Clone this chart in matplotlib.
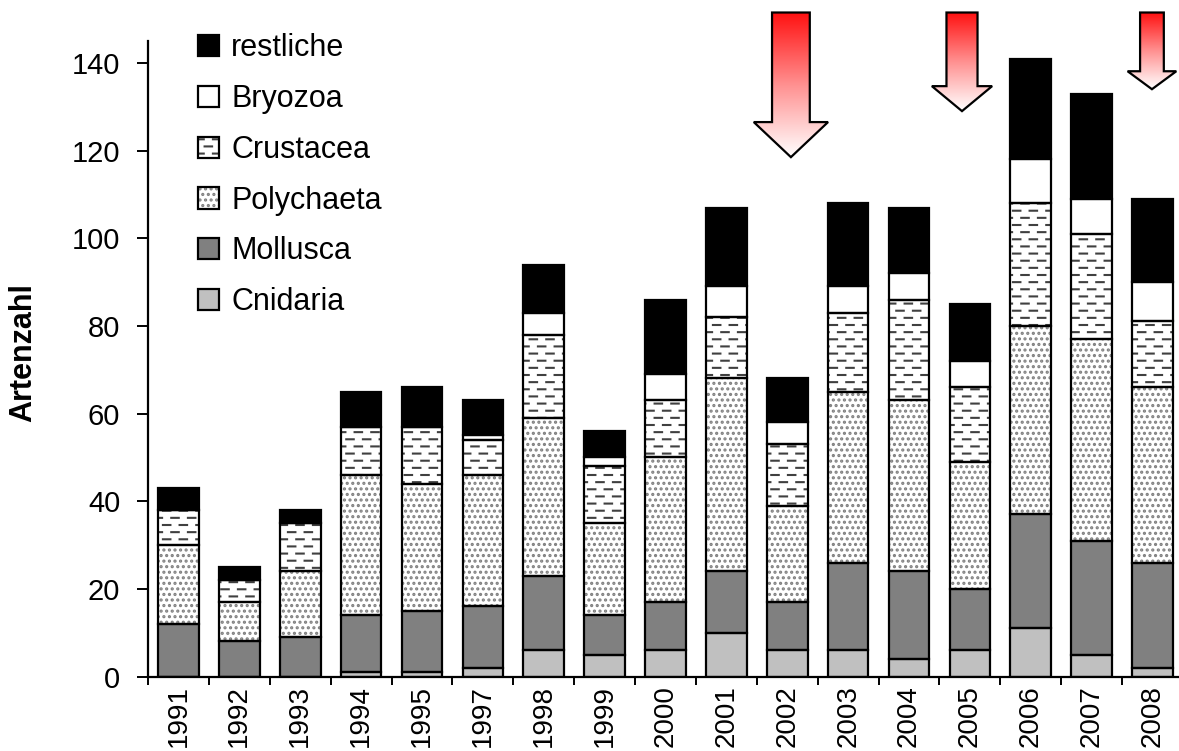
import warnings
import numpy as np
import matplotlib
matplotlib.use('Agg')
import matplotlib.pyplot as plt
import matplotlib.hatch as mhatch
from matplotlib.path import Path
from matplotlib.patches import Polygon
from matplotlib.colors import LinearSegmentedColormap

warnings.filterwarnings('ignore')

# data (species counts per group)
years = ['1991', '1992', '1993', '1994', '1995', '1997', '1998', '1999', '2000',
         '2001', '2002', '2003', '2004', '2005', '2006', '2007', '2008']
cnidaria = [0, 0, 0, 1, 1, 2, 6, 5, 6, 10, 6, 6, 4, 6, 11, 5, 2]
mollusca = [12, 8, 9, 13, 14, 14, 17, 9, 11, 14, 11, 20, 20, 14, 26, 26, 24]
polychaeta = [18, 9, 15, 32, 29, 30, 36, 21, 33, 44, 22, 39, 39, 29, 43, 46, 40]
crustacea = [8, 5, 11, 11, 13, 8, 19, 13, 13, 14, 14, 18, 23, 17, 28, 24, 15]
bryozoa = [0, 0, 0, 0, 0, 1, 5, 2, 6, 7, 5, 6, 6, 6, 10, 8, 9]
restliche = [5, 3, 3, 8, 9, 8, 11, 6, 17, 18, 10, 19, 15, 13, 23, 24, 19]

# arrows marking the years of decline
arrow_years = ['2002', '2005', '2008']
arrow_tips = [118.5, 129.0, 134.0]


class DashHatch(mhatch.HatchPatternBase):
    """Short staggered dashes, selected with '_' in the hatch string."""
    rows, cols, dash = 14, 6, 0.075

    def __init__(self, hatch, density):
        self.num_vertices = 2 * self.rows * (self.cols + 1) if '_' in hatch else 0

    def set_vertices_and_codes(self, vertices, codes):
        k = 0
        for r in range(self.rows):
            y = (r + 0.5) / self.rows
            shift = 0.5 / self.cols if r % 2 else 0.0
            for c in range(self.cols + 1):
                x0 = c / self.cols + shift - self.dash / 2
                vertices[k] = (x0, y)
                vertices[k + 1] = (x0 + self.dash, y)
                codes[k] = Path.MOVETO
                codes[k + 1] = Path.LINETO
                k += 2


mhatch._hatch_types.append(DashHatch)

plt.rcParams['font.family'] = ['Liberation Sans', 'DejaVu Sans']
plt.rcParams['hatch.linewidth'] = 1.5

fig = plt.figure(figsize=(11.79, 7.51), dpi=100)
ax = fig.add_axes([148 / 1179, 74.5 / 751, 1035 / 1179, 635.5 / 751])

x = np.arange(len(years))
width = 0.667
series = [
    ('Cnidaria', cnidaria, '#c0c0c0', None, 'black'),
    ('Mollusca', mollusca, '#808080', None, 'black'),
    ('Polychaeta', polychaeta, 'white', '...', '#808080'),
    ('Crustacea', crustacea, 'white', '_', '#404040'),
    ('Bryozoa', bryozoa, 'white', None, 'black'),
    ('restliche', restliche, 'black', None, 'black'),
]

bottom = np.zeros(len(years))
handles, names = [], []
for name, vals, color, hatch, hcolor in series:
    vals = np.array(vals, dtype=float)
    fill = ax.bar(x, vals, width, bottom=bottom, color=color, hatch=hatch,
                  edgecolor=hcolor, linewidth=0, zorder=2)
    edge = ax.bar(x, vals, width, bottom=bottom, fill=False,
                  edgecolor='black', linewidth=1.6, zorder=3)
    bottom += vals
    handles.append((fill, edge))
    names.append(name)

ax.set_xlim(-0.5, 16.5)
ax.set_ylim(0, 145)

ax.spines['top'].set_visible(False)
ax.spines['right'].set_visible(False)
ax.spines['left'].set_linewidth(1.6)
ax.spines['bottom'].set_linewidth(1.6)

ax.set_yticks(np.arange(0, 141, 20))
ax.tick_params(axis='y', length=8, width=1.4, pad=12, labelsize=21)
ax.set_xticks(x)
ax.set_xticklabels(years, rotation=90, fontsize=20)
ax.set_xticks(np.arange(-0.5, 17, 1), minor=True)
ax.tick_params(axis='x', which='major', length=0, pad=6)
ax.tick_params(axis='x', which='minor', length=6, width=1.4)

ax.set_ylabel('Artenzahl', fontsize=22, fontweight='bold')
ax.yaxis.set_label_coords(-0.106, 0.51)

ax.legend(handles[::-1], names[::-1], loc='upper left',
          bbox_to_anchor=(50 / 1035, 1.012), frameon=False, fontsize=22,
          handlelength=0.69, handleheight=0.69, handletextpad=0.4,
          labelspacing=0.68, borderpad=0, borderaxespad=0)

# overlay axes with the same data scale, so the arrows can rise above the plot
L, B, W, H = ax.get_position().bounds
x0, x1 = ax.get_xlim()
y0, y1 = ax.get_ylim()
sx, sy = (x1 - x0) / W, (y1 - y0) / H
over = fig.add_axes([0, 0, 1, 1], zorder=5)
over.set_axis_off()
over.patch.set_alpha(0)

cmap = LinearSegmentedColormap.from_list('redwhite', ['#ff1010', '#ff9090', '#ffffff'])
grad = np.linspace(0, 1, 256).reshape(-1, 1)
arrow_x = [10.06, 12.87, 15.99]
shaft_w = [0.62, 0.51, 0.39]
head_w = [1.22, 0.99, 0.80]
head_h = [8.0, 5.7, 4.1]
arrow_top = 151.5
for i, yr in enumerate(arrow_years):
    xc, tip = arrow_x[i], arrow_tips[i]
    sw, hw, hh = shaft_w[i] / 2, head_w[i] / 2, head_h[i]
    pts = [(xc - sw, arrow_top), (xc + sw, arrow_top), (xc + sw, tip + hh),
           (xc + hw, tip + hh), (xc, tip), (xc - hw, tip + hh), (xc - sw, tip + hh)]
    im = over.imshow(grad, extent=[xc - hw, xc + hw, tip, arrow_top], cmap=cmap,
                     aspect='auto', origin='upper', zorder=1)
    poly = Polygon(pts, closed=True, facecolor='none', edgecolor='black',
                   linewidth=1.6, zorder=2)
    over.add_patch(poly)
    im.set_clip_path(poly)

over.set_xlim(x0 - L * sx, x0 + (1 - L) * sx)
over.set_ylim(y0 - B * sy, y0 + (1 - B) * sy)

fig.savefig('out.png', dpi=100)
